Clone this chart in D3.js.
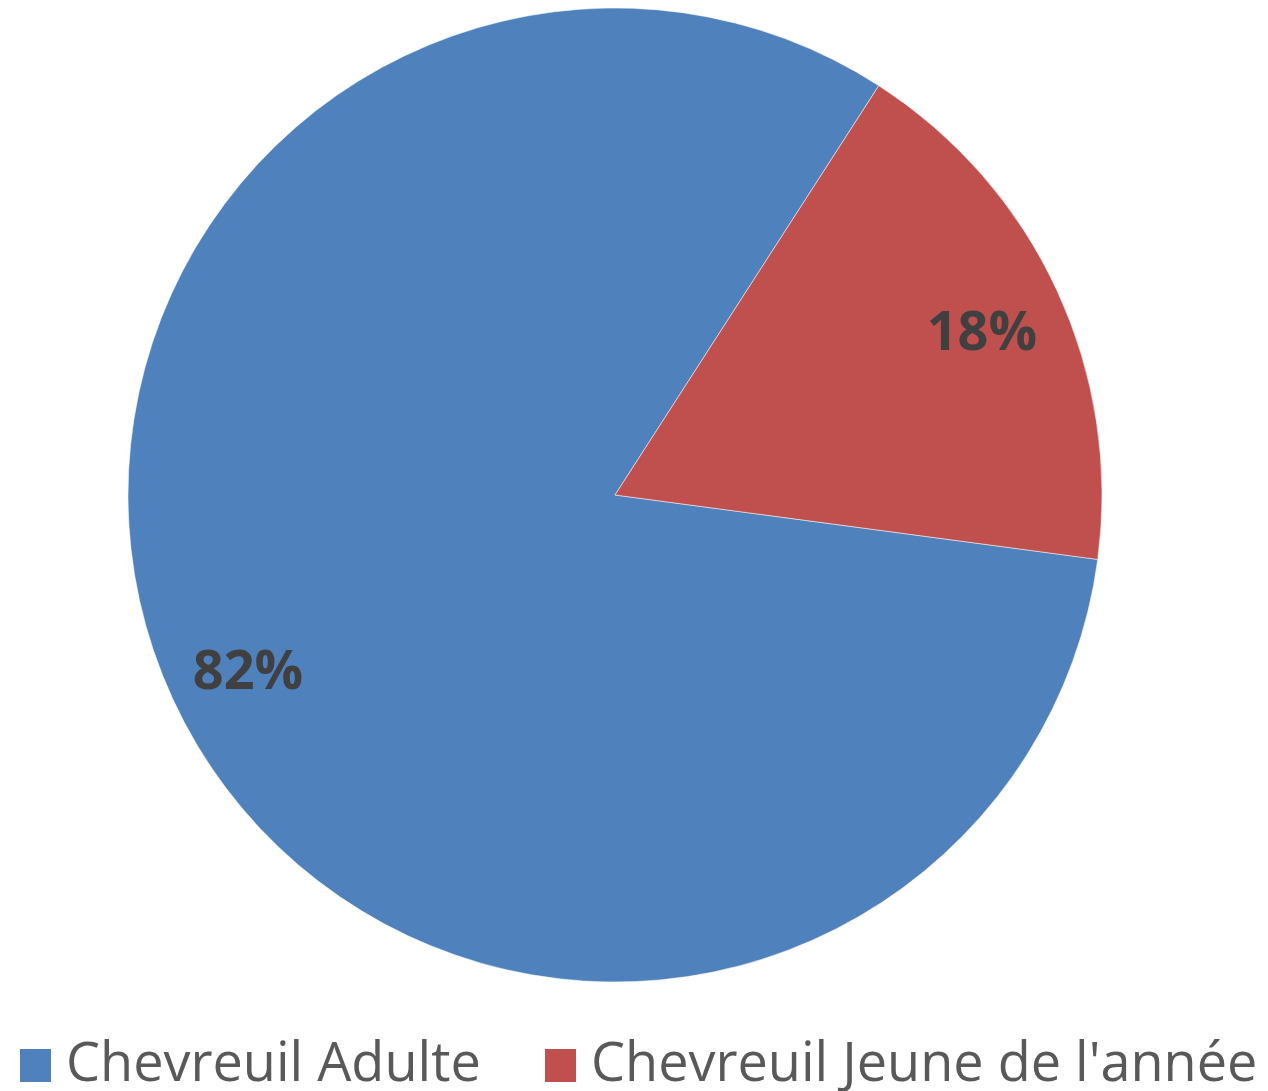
<!DOCTYPE html>
<html>
<head>
<meta charset="utf-8">
<script src="https://cdn.jsdelivr.net/npm/d3@7"></script>
<style>
  html, body { margin: 0; padding: 0; background: #fff; }
  svg { display: block; }
</style>
</head>
<body>
<svg id="chart" width="1268" height="1091"></svg>
<script>
const categories = ["Chevreuil Adulte", "Chevreuil Jeune de l'année"];
const values = [82, 18];
const labels = ["82%", "18%"];
const colors = ["#4F81BD", "#C0504D"];

const svg = d3.select("#chart");
const cx = 615, cy = 495, R = 487;
const start = 97.6 * Math.PI / 180;

const pie = d3.pie().sort(null).value(d => d.v)
  .startAngle(start).endAngle(start + 2 * Math.PI);
const data = categories.map((c, i) => ({ c, v: values[i], l: labels[i], col: colors[i] }));
const arcs = pie(data);

const arc = d3.arc().innerRadius(0).outerRadius(R);
const labelArc = d3.arc().innerRadius(R * 0.83).outerRadius(R * 0.83);

const g = svg.append("g").attr("transform", `translate(${cx},${cy})`);
g.selectAll("path").data(arcs).enter().append("path")
  .attr("d", arc)
  .attr("fill", d => d.data.col)
  .attr("stroke", "#ffffff")
  .attr("stroke-opacity", 0.5)
  .attr("stroke-width", 1);

g.selectAll("text.lbl").data(arcs).enter().append("text")
  .attr("class", "lbl")
  .attr("transform", d => `translate(${labelArc.centroid(d)})`)
  .attr("text-anchor", "middle")
  .attr("dy", "0.46em")
  .attr("font-family", "'Open Sans', sans-serif")
  .attr("font-weight", "bold")
  .attr("font-size", 54)
  .attr("fill", "#404040")
  .text(d => d.data.l);

// Legend
const legendX = [20, 545];
const leg = svg.append("g");
data.forEach((d, i) => {
  leg.append("rect")
    .attr("x", legendX[i]).attr("y", 1049)
    .attr("width", 31).attr("height", 33)
    .attr("fill", d.col);
  leg.append("text")
    .attr("x", legendX[i] + 46).attr("y", 1081)
    .attr("font-family", "'Open Sans', sans-serif")
    .attr("font-size", 54)
    .attr("fill", "#595959")
    .text(d.c);
});
</script>
</body>
</html>
